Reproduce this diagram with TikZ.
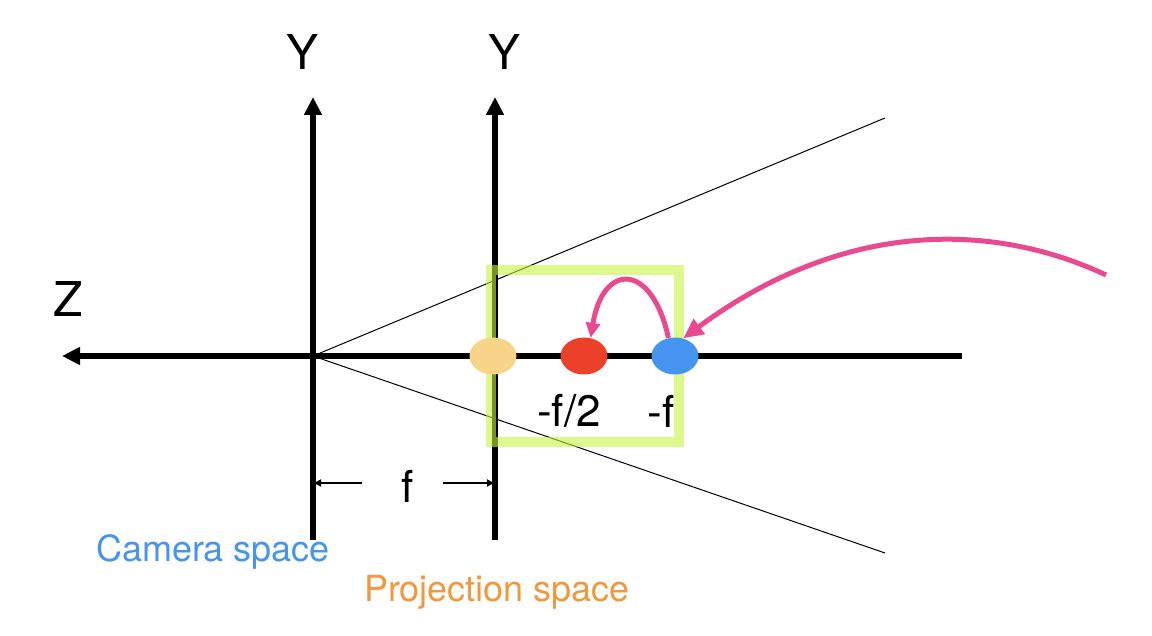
\documentclass[tikz,border=0pt]{standalone}
\usepackage{fontspec}
\setmainfont{TeX Gyre Heros}
\usetikzlibrary{arrows.meta,shapes.geometric}
\definecolor{camblue}{RGB}{69,148,240}
\definecolor{projorange}{RGB}{240,152,60}
\definecolor{dotpeach}{RGB}{248,212,136}
\definecolor{dotred}{RGB}{234,65,40}
\definecolor{dotblue}{RGB}{69,148,240}
\definecolor{boxgreen}{RGB}{198,243,63}
\definecolor{arcpink}{RGB}{233,74,143}
\begin{document}
\begin{tikzpicture}[x=0.5pt,y=-0.5pt,
  axis/.style={line width=3pt, -{Triangle[length=9pt,width=8.5pt]}},
  ray/.style={line width=0.5pt},
  dim/.style={line width=1pt, -{Triangle[length=3.5pt,width=3.5pt]}},
  dot/.style={ellipse, minimum width=23.5pt, minimum height=18.5pt, inner sep=0pt},
  big/.style={font=\fontsize{24}{28}\selectfont},
  lab/.style={font=\fontsize{22}{26}\selectfont},
  spacelab/.style={font=\fontsize{18}{22}\selectfont},
  smallarc/.style={arcpink, line width=2.5pt, -{Triangle[length=7.5pt,width=7pt]}},
  bigarc/.style={arcpink, line width=2.5pt, -{Triangle[length=10pt,width=9pt]}},
  greenbox/.style={draw=boxgreen, draw opacity=0.6, line width=5pt},
]
\useasboundingbox (0,0) rectangle (1152,636);

% coordinates
\coordinate (O) at (313,356);
\coordinate (ZR) at (962,356);
\coordinate (ZL) at (62,356);
\coordinate (A1b) at (313,540);
\coordinate (A1t) at (313,97);
\coordinate (A2b) at (495,540);
\coordinate (A2t) at (495,97);
\coordinate (C1) at (885,118);
\coordinate (C2) at (885,553);
\coordinate (DL1) at (362,483);
\coordinate (DL2) at (314,483);
\coordinate (DR1) at (443,483);
\coordinate (DR2) at (494,483);
\coordinate (S) at (1106,275);

% frustum rays
\draw[ray] (O) -- (C1);
\draw[ray] (O) -- (C2);

% axes
\draw[axis] (ZR) -- (ZL);
\draw[axis] (A1b) -- (A1t);
\draw[axis] (A2b) -- (A2t);

% labels
\node[big] (Y1) at (303,52) {Y};
\node[big] (Y2) at (505,52) {Y};
\node[big] (Z) at (68,299) {Z};
\node[lab] (F) at (408,486) {f};
\draw[dim] (DL1) -- (DL2);
\draw[dim] (DR1) -- (DR2);
\node[lab] (Lh) at (569,411) {-f/2};
\node[lab] (Lf) at (661,411) {-f};
\node[spacelab, text=camblue] (CS) at (213,552) {Camera space};
\node[spacelab, text=projorange] (PS) at (497,592) {Projection space};

% green box
\draw[greenbox] (491,270) rectangle (679,442);

% points
\node[dot, fill=dotpeach] (P) at (493,356) {};
\node[dot, fill=dotred] (R) at (584,356) {};
\node[dot, fill=dotblue] (B) at (675,356) {};

% pink arcs
\draw[smallarc] (B.110) .. controls (652,262) and (603,262) .. (R.70);
\draw[bigarc] (S) .. controls (1000,225) and (850,215) .. (B.65);
\end{tikzpicture}
\end{document}
